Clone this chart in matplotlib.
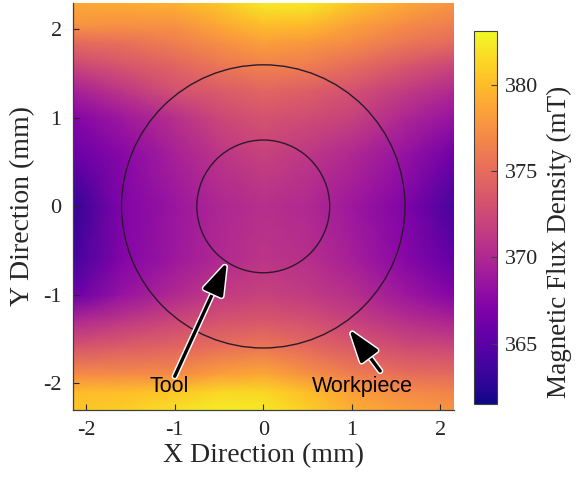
import numpy as np
import matplotlib
matplotlib.use("Agg")
import matplotlib.pyplot as plt
from matplotlib.patches import Circle
import matplotlib.patheffects as pe

plt.rcParams['axes.unicode_minus'] = False

# grid coordinates (mm)
x_mm = [-2.15, -1.6, -1.0, -0.5, 0.0, 0.5, 1.0, 1.6, 2.15]
y_mm = [2.3, 2.05, 1.85, 1.6, 1.3, 1.0, 0.6, 0.0, -0.6, -1.0, -1.3, -1.6, -1.9, -2.1, -2.3]

# magnetic flux density (mT), rows follow y_mm, columns follow x_mm
row_y2p30 = [378.8, 379.0, 379.4, 380.5, 382.3, 382.3, 380.5, 378.8, 377.7]
row_y2p05 = [377.7, 377.5, 377.5, 378.8, 380.1, 379.9, 378.5, 377.1, 376.2]
row_y1p85 = [374.9, 375.3, 376.2, 377.3, 378.3, 377.9, 377.1, 375.8, 374.9]
row_y1p60 = [372.3, 373.4, 374.5, 375.8, 376.6, 376.2, 375.1, 373.6, 372.3]
row_y1p30 = [369.3, 371.0, 373.0, 373.8, 374.5, 374.0, 373.0, 371.4, 370.1]
row_y1p00 = [367.3, 368.8, 370.6, 372.3, 373.2, 372.7, 371.9, 369.9, 368.4]
row_y0p60 = [365.8, 367.5, 369.5, 371.0, 371.9, 371.2, 370.1, 368.4, 366.3]
row_y0p00 = [363.0, 367.0, 368.6, 369.9, 370.6, 370.1, 368.8, 367.0, 364.0]
row_ym0p6 = [363.7, 367.2, 368.8, 370.1, 371.0, 370.6, 369.3, 367.5, 365.4]
row_ym1p0 = [365.8, 368.4, 370.1, 371.4, 371.9, 371.4, 370.6, 368.8, 367.3]
row_ym1p3 = [370.1, 371.2, 372.3, 373.2, 373.6, 373.0, 371.9, 370.6, 369.7]
row_ym1p6 = [373.4, 374.0, 374.5, 375.3, 375.8, 374.9, 373.8, 372.7, 372.3]
row_ym1p9 = [377.1, 377.1, 377.1, 378.3, 378.8, 377.5, 376.2, 375.1, 374.9]
row_ym2p1 = [379.9, 380.1, 380.5, 381.4, 381.4, 380.1, 378.3, 377.1, 376.6]
row_ym2p3 = [380.5, 380.9, 381.8, 382.5, 382.2, 380.9, 379.2, 378.1, 377.7]

flux_rows = [row_y2p30, row_y2p05, row_y1p85, row_y1p60, row_y1p30, row_y1p00,
             row_y0p60, row_y0p00, row_ym0p6, row_ym1p0, row_ym1p3, row_ym1p6,
             row_ym1p9, row_ym2p1, row_ym2p3]

tool_radius = 0.75
workpiece_radius = 1.6
cbar_ticks = [365, 370, 375, 380]
x_ticks = [-2, -1, 0, 1, 2]
y_ticks = [-2, -1, 0, 1, 2]

vmin, vmax = 361.5, 383.1

fig = plt.figure(figsize=(5.78, 4.80), dpi=100)
ax = fig.add_axes([0.126, 0.146, 0.659, 0.848])

X, Y = np.meshgrid(np.array(x_mm), np.array(y_mm))
Z = np.array(flux_rows)
mesh = ax.pcolormesh(X, Y, Z, cmap='plasma', shading='gouraud', vmin=vmin, vmax=vmax)

for r in (tool_radius, workpiece_radius):
    ax.add_patch(Circle((0, 0), r, fill=False, edgecolor='#2b1a2b', lw=1.0))

ax.set_xlim(-2.15, 2.15)
ax.set_ylim(-2.3, 2.3)
ax.set_xticks(x_ticks)
ax.set_yticks(y_ticks)
serif = 'Liberation Serif'
ax.set_xticklabels([str(t) for t in x_ticks], fontfamily=serif, fontsize=16, color='#262626')
ax.set_yticklabels([str(t) for t in y_ticks], fontfamily=serif, fontsize=16, color='#262626')
ax.tick_params(direction='in', length=4, width=0.8, color='#262626', pad=8)
ax.set_xlabel('X Direction (mm)', fontfamily=serif, fontsize=20, color='#262626', labelpad=2)
ax.set_ylabel('Y Direction (mm)', fontfamily=serif, fontsize=20, color='#262626', labelpad=6)
for s in ('top', 'right'):
    ax.spines[s].set_visible(False)
for s in ('left', 'bottom'):
    ax.spines[s].set_color('#404040')
    ax.spines[s].set_linewidth(0.9)

stroke = [pe.Stroke(linewidth=4.5, foreground='white'), pe.Normal()]
arrow_kw = dict(arrowstyle='-|>,head_width=0.33,head_length=1.0', lw=2.4, color='black',
                shrinkA=0, shrinkB=0, mutation_scale=20)
a1 = ax.annotate('', xy=(-0.41, -0.63), xytext=(-1.0, -1.92), arrowprops=arrow_kw)
a1.arrow_patch.set_path_effects(stroke)
a2 = ax.annotate('', xy=(0.97, -1.39), xytext=(1.32, -1.86), arrowprops=arrow_kw)
a2.arrow_patch.set_path_effects(stroke)

ax.text(-1.06, -2.04, 'Tool', fontfamily='Liberation Sans', fontsize=15.5,
        ha='center', va='center', color='black')
ax.text(1.12, -2.04, 'Workpiece', fontfamily='Liberation Sans', fontsize=15.5,
        ha='center', va='center', color='black')

cax = fig.add_axes([0.820, 0.158, 0.040, 0.777])
cb = fig.colorbar(mesh, cax=cax, ticks=cbar_ticks)
cb.outline.set_edgecolor('#404040')
cb.outline.set_linewidth(0.8)
cax.tick_params(direction='in', length=4, width=0.8, color='#404040', pad=6)
cax.set_yticklabels([str(t) for t in cbar_ticks], fontfamily=serif, fontsize=16, color='#262626')
fig.text(559 / 578, 1 - 242 / 480, 'Magnetic Flux Density (mT)', rotation=90,
         fontfamily=serif, fontsize=19.5, color='#262626', ha='center', va='center')

fig.savefig('out.png', dpi=100)
